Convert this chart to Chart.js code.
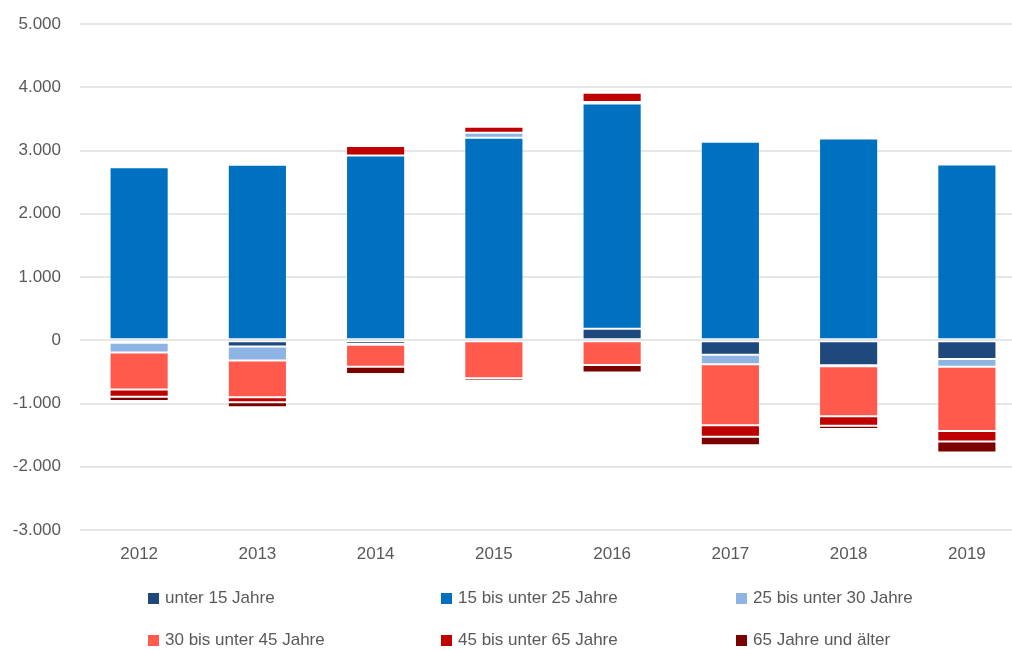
<!DOCTYPE html>
<html lang="de">
<head>
<meta charset="utf-8">
<script src="https://cdn.jsdelivr.net/npm/chart.js@4.4.1/dist/chart.umd.min.js"></script>
<style>
  html, body { margin: 0; padding: 0; background: #fff; overflow: hidden; }
  #wrap { position: relative; width: 1026px; height: 650px; }
  #legende { position: absolute; left: 0; top: 0; width: 1012px; height: 650px; pointer-events: none;
    font-family: "Liberation Sans", Arial, sans-serif; font-size: 17px; color: #595959; }
  .item { position: absolute; display: flex; align-items: center; white-space: nowrap; }
  .box { width: 11px; height: 11px; margin-right: 6px; }
</style>
</head>
<body>
<div id="wrap">
  <canvas id="grafico" width="1026" height="650"></canvas>
  <div id="legende"></div>
</div>
<script>
// === DATEN ===
const jahre = ["2012", "2013", "2014", "2015", "2016", "2017", "2018", "2019"];
const unter15 = [-40, -100, -60, 0, 180, -230, -395, -295];
const j15bis25 = [2735, 2775, 2920, 3200, 3565, 3140, 3190, 2780];
const j25bis30 = [-155, -220, -10, 80, 20, -150, -15, -125];
const j30bis45 = [-585, -580, -350, -600, -390, -965, -790, -1015];
const j45bis65 = [-115, -80, 150, 95, 150, -180, -150, -165];
const j65plus = [-65, -80, -115, -40, -120, -135, -55, -175];
const yTicks = [-3000, -2000, -1000, 0, 1000, 2000, 3000, 4000, 5000];

const serien = [
  { label: "unter 15 Jahre", data: unter15, farbe: "#1F497D" },
  { label: "15 bis unter 25 Jahre", data: j15bis25, farbe: "#0070C0" },
  { label: "25 bis unter 30 Jahre", data: j25bis30, farbe: "#8DB4E2" },
  { label: "30 bis unter 45 Jahre", data: j30bis45, farbe: "#FF5A4B" },
  { label: "45 bis unter 65 Jahre", data: j45bis65, farbe: "#BE0000" },
  { label: "65 Jahre und älter", data: j65plus, farbe: "#7B0000" },
];

const schrift = { family: "'Liberation Sans', Arial, sans-serif", size: 17 };

// Tausenderpunkt wie im Original
function formatZahl(v) {
  const s = String(Math.abs(v)).replace(/\B(?=(\d{3})+(?!\d))/g, ".");
  return v < 0 ? "-" + s : s;
}

const ctx = document.getElementById("grafico").getContext("2d");
const chart = new Chart(ctx, {
  type: "bar",
  data: {
    labels: jahre,
    datasets: serien.map((s) => ({
      label: s.label,
      data: s.data,
      backgroundColor: s.farbe,
      borderColor: "rgba(255,255,255,0.3)",
      borderWidth: 1,
      borderSkipped: false,
      categoryPercentage: 1,
      barPercentage: 0.5,
    })),
  },
  options: {
    responsive: false,
    animation: false,
    layout: { padding: { top: 24, right: 0, bottom: 80, left: 0 } },
    plugins: {
      legend: { display: false },
      tooltip: { enabled: false },
    },
    scales: {
      x: {
        stacked: true,
        grid: { display: false, drawTicks: false },
        border: { display: false },
        ticks: { color: "#595959", font: schrift, padding: 14 },
        afterFit: (scale) => { scale.height = 40; },
      },
      y: {
        stacked: true,
        min: -3000,
        max: 5000,
        afterBuildTicks: (scale) => { scale.ticks = yTicks.map((v) => ({ value: v })); },
        grid: { color: "#e6e6e6", lineWidth: 2, drawTicks: false },
        border: { display: false },
        ticks: { color: "#595959", font: schrift, padding: 19, callback: (v) => formatZahl(v) },
        afterFit: (scale) => {
          scale.width = 80;
          scale.paddingTop = 0;
          scale.paddingBottom = 0;
        },
      },
    },
  },
});

// === LEGENDE (3 Spalten, 2 Zeilen) ===
const spaltenX = [148, 441, 736];
const zeilenY = [598, 640];
const legende = document.getElementById("legende");
serien.forEach((s, i) => {
  const el = document.createElement("div");
  el.className = "item";
  el.style.left = spaltenX[i % 3] + "px";
  el.style.top = (zeilenY[Math.floor(i / 3)] - 10) + "px";
  el.innerHTML = '<span class="box" style="background:' + s.farbe + '"></span><span>' + s.label + "</span>";
  legende.appendChild(el);
});
</script>
</body>
</html>
